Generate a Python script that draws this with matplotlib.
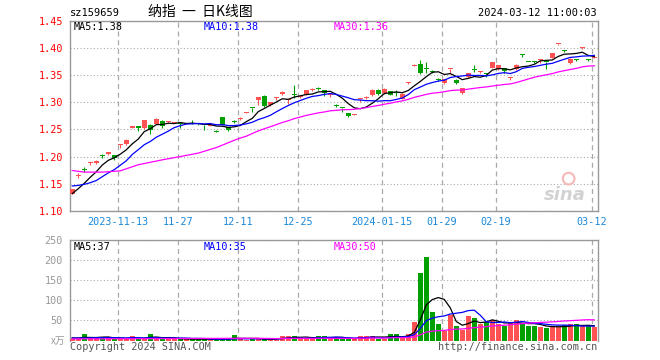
import matplotlib
matplotlib.use('Agg')
import matplotlib.pyplot as plt
import numpy as np
import pandas as pd

plt.rcParams['font.family'] = ['DejaVu Sans Mono', 'Noto Sans CJK SC']

# sz159659 daily k-line, 2023-11-01 .. 2024-03-12 (88 trading days)
open_ = [1.132, 1.1635, 1.176, 1.189, 1.188, 1.2025, 1.204, 1.202, 1.222, 1.2236,
         1.253, 1.2565, 1.252, 1.2587, 1.2605, 1.266, 1.2635, 1.262, 1.261, 1.260,
         1.2605, 1.260, 1.2585, 1.2565, 1.247, 1.2728, 1.2535, 1.264, 1.269, 1.280,
         1.2895, 1.3035, 1.312, 1.294, 1.308, 1.3145, 1.3035, 1.3145, 1.309, 1.314,
         1.3228, 1.3248, 1.322, 1.313, 1.2945, 1.289, 1.2795, 1.2765, 1.3055, 1.308,
         1.3125, 1.323, 1.316, 1.3205, 1.3175, 1.3066, 1.335, 1.3665, 1.3705, 1.362,
         1.3565, 1.342, 1.336, 1.361, 1.3415, 1.3175, 1.3465, 1.3595, 1.3545, 1.3525,
         1.3635, 1.3605, 1.363, 1.345, 1.3605, 1.3865, 1.374, 1.3738, 1.3772, 1.3737,
         1.382, 1.406, 1.394, 1.3725, 1.3785, 1.3995, 1.3785, 1.381]
high = [1.141, 1.169, 1.180, 1.190, 1.193, 1.205, 1.209, 1.203, 1.2236, 1.232,
        1.257, 1.257, 1.267, 1.259, 1.270, 1.2665, 1.266, 1.264, 1.261, 1.261,
        1.268, 1.2605, 1.2587, 1.258, 1.249, 1.273, 1.2535, 1.267, 1.2725, 1.2815,
        1.2895, 1.310, 1.3125, 1.300, 1.310, 1.3196, 1.305, 1.3306, 1.312, 1.322,
        1.3255, 1.328, 1.322, 1.316, 1.297, 1.289, 1.2795, 1.2785, 1.306, 1.311,
        1.3235, 1.3235, 1.3255, 1.321, 1.322, 1.316, 1.3375, 1.370, 1.377, 1.3736,
        1.3585, 1.3445, 1.343, 1.3614, 1.3417, 1.3265, 1.354, 1.3675, 1.357, 1.3525,
        1.3745, 1.368, 1.3635, 1.3455, 1.3695, 1.389, 1.3745, 1.376, 1.3778, 1.3737,
        1.3897, 1.407, 1.3965, 1.3815, 1.3785, 1.4015, 1.3785, 1.3845]
low = [1.131, 1.160, 1.171, 1.184, 1.187, 1.197, 1.203, 1.194, 1.215, 1.222,
       1.252, 1.2465, 1.251, 1.242, 1.260, 1.2525, 1.262, 1.261, 1.252, 1.2595,
       1.2595, 1.2585, 1.2494, 1.2555, 1.2445, 1.258, 1.2466, 1.261, 1.268, 1.2795,
       1.282, 1.2956, 1.2915, 1.293, 1.3035, 1.3135, 1.297, 1.308, 1.308, 1.3135,
       1.321, 1.322, 1.311, 1.310, 1.291, 1.2815, 1.2725, 1.2755, 1.300, 1.306,
       1.312, 1.3125, 1.3155, 1.3125, 1.311, 1.306, 1.334, 1.3655, 1.351, 1.354,
       1.353, 1.339, 1.3325, 1.354, 1.333, 1.315, 1.345, 1.3545, 1.353, 1.3455,
       1.363, 1.3595, 1.354, 1.3415, 1.3595, 1.383, 1.373, 1.371, 1.3725, 1.3615,
       1.3815, 1.4055, 1.3915, 1.3694, 1.375, 1.3985, 1.376, 1.3805]
close = [1.140, 1.1645, 1.175, 1.190, 1.191, 1.2015, 1.208, 1.198, 1.2236, 1.231,
         1.256, 1.2525, 1.2665, 1.2494, 1.269, 1.257, 1.2645, 1.263, 1.259, 1.2605,
         1.260, 1.2595, 1.2575, 1.2575, 1.246, 1.2585, 1.248, 1.2632, 1.270, 1.281,
         1.289, 1.3095, 1.2925, 1.300, 1.3098, 1.319, 1.3045, 1.3135, 1.3115, 1.3214,
         1.3235, 1.324, 1.316, 1.3145, 1.2935, 1.2885, 1.274, 1.2775, 1.306, 1.3095,
         1.323, 1.3155, 1.325, 1.3135, 1.317, 1.3155, 1.336, 1.368, 1.3535, 1.361,
         1.3555, 1.3412, 1.343, 1.3614, 1.3355, 1.3255, 1.3535, 1.359, 1.3555, 1.352,
         1.3742, 1.3675, 1.3575, 1.3455, 1.369, 1.386, 1.3735, 1.3733, 1.3778, 1.3732,
         1.3895, 1.4065, 1.3935, 1.380, 1.378, 1.4005, 1.3775, 1.3835]
# volume, 万
volume = [4, 3, 16, 5, 9, 9, 5, 4, 4, 4,
          12, 3, 6, 15, 7, 4, 3, 5, 3, 3,
          3, 3, 4, 3, 3, 4, 3, 14, 3, 2,
          4, 3, 4, 3, 2, 12, 10, 12, 4, 5,
          4, 12, 12, 4, 8, 4, 3, 4, 11, 12,
          12, 4, 4, 15, 17, 6, 15, 47, 168, 207,
          72, 40, 24, 63, 37, 26, 60, 57, 42, 46,
          52, 42, 36, 44, 50, 44, 36, 36, 34, 30,
          37, 34, 38, 40, 40, 35, 36, 33]

# averages before the window fills (data starts earlier)
ma5_head = [1.132, 1.141, 1.151, 1.162]
ma10_head = [1.146, 1.147, 1.149, 1.152, 1.156, 1.163, 1.170, 1.176, 1.184]
ma30_head_idx = [0, 2, 5, 8, 11, 15, 18, 21, 24, 27, 28]
ma30_head = [1.1744, 1.1715, 1.1714, 1.1738, 1.185, 1.194, 1.200, 1.2064, 1.2165, 1.230, 1.234]
vol_ma5_head = [6.5, 6, 8, 7.5]
vol_ma10_head = [6, 6, 6.5, 6.5, 7, 7, 7, 7, 6.5]
vol_ma30_head_idx = [0, 10, 20, 28]
vol_ma30_head = [4, 4.5, 5, 5.5]

tick_idx = [8, 18, 28, 38, 52, 62, 71, 87]
tick_lab = ['2023-11-13', '11-27', '12-11', '12-25', '2024-01-15', '01-29', '02-19', '03-12']

price_ticks = [1.10, 1.15, 1.20, 1.25, 1.30, 1.35, 1.40, 1.45]
vol_ticks = [50, 100, 150, 200, 250]

UP = '#ff5252'
DOWN = '#00a000'
GRID = '#aaaaaa'

n = len(close)
x = np.arange(n)
o = np.array(open_)
c = np.array(close)
up = c >= o
cols = np.where(up, UP, DOWN)


def moving(vals, win, head, head_idx=None):
    s = pd.Series(vals).rolling(win).mean().values
    if head_idx is None:
        head_idx = list(range(len(head)))
    xs = list(head_idx) + list(range(win - 1, len(vals)))
    ys = list(head) + list(s[win - 1:])
    return xs, ys


fig = plt.figure(figsize=(6.6, 3.6), dpi=100)
W, H = 660.0, 360.0
ax1 = fig.add_axes([70 / W, 1 - 211 / H, 527.7 / W, 190.5 / H])
ax2 = fig.add_axes([70 / W, 1 - 340.5 / H, 527.7 / W, 100.5 / H])

# ---- price panel
ax1.vlines(x, low, high, colors=cols, lw=0.8, zorder=3)
body = np.maximum(np.abs(c - o), 0.0019)
ax1.bar(x, body, bottom=np.minimum(o, c), width=0.85, color=cols, lw=0, zorder=3)

for win, head, hidx, col in [(5, ma5_head, None, 'black'),
                             (10, ma10_head, None, '#0000ff'),
                             (30, ma30_head, ma30_head_idx, '#ff00ff')]:
    xs, ys = moving(close, win, head, hidx)
    ax1.plot(xs, ys, color=col, lw=0.9, zorder=4)

ax1.set_xlim(-0.38, 87.57)
ax1.set_ylim(1.10, 1.45)
ax1.set_yticks(price_ticks)
ax1.set_yticklabels(['%.2f' % t for t in price_ticks])
ax1.tick_params(axis='y', length=0, pad=5, labelcolor='#ff0000', labelsize=7.3)
ax1.set_xticks([i - 0.35 for i in tick_idx])
ax1.set_xticklabels(tick_lab)
ax1.tick_params(axis='x', length=0, pad=4, labelcolor='#1a88d8', labelsize=7.3)
ax1.yaxis.grid(True, color=GRID, ls=(0, (1, 2)), lw=0.8)
ax1.xaxis.grid(True, color=GRID, ls=(0, (4, 3)), lw=0.9)
ax1.set_axisbelow(True)

# sina watermark
ax1.text(0.978, 0.085, 'sina', transform=ax1.transAxes, ha='right', va='center',
         fontsize=13, fontweight='bold', style='italic', color='#d2d2d2',
         family='DejaVu Sans', zorder=1)
ax1.scatter([0.945], [0.17], transform=ax1.transAxes, s=70, facecolor='none',
            edgecolor='#f6b8b8', lw=1.5, zorder=1)

# ---- volume panel
ax2.bar(x, volume, width=0.85, color=cols, lw=0, zorder=3)
for win, head, hidx, col in [(5, vol_ma5_head, None, 'black'),
                             (10, vol_ma10_head, None, '#0000ff'),
                             (30, vol_ma30_head, vol_ma30_head_idx, '#ff00ff')]:
    xs, ys = moving(volume, win, head, hidx)
    ax2.plot(xs, ys, color=col, lw=0.9, zorder=4)

ax2.set_xlim(-0.38, 87.57)
ax2.set_ylim(0, 250)
ax2.set_yticks(vol_ticks)
ax2.tick_params(axis='y', length=0, pad=5, labelcolor='#999999', labelsize=7.3)
ax2.set_xticks([i - 0.35 for i in tick_idx])
ax2.set_xticklabels([])
ax2.tick_params(axis='x', length=0)
ax2.yaxis.grid(True, color=GRID, ls=(0, (1, 2)), lw=0.8)
ax2.xaxis.grid(True, color=GRID, ls=(0, (4, 3)), lw=0.9)
ax2.set_axisbelow(True)
ax2.spines['bottom'].set_visible(False)

for ax in (ax1, ax2):
    for s in ['left', 'right', 'top', 'bottom']:
        ax.spines[s].set_color('#999999')
        ax.spines[s].set_linewidth(1)

# ---- texts


def ft(px, py, s, **kw):
    fig.text(px / W, 1 - py / H, s, **kw)


ft(70, 13, 'sz159659', fontsize=7.5, va='center', color='black')
ft(200, 12, '纳指  一  日K线图', fontsize=10, va='center', ha='center',
   family=['Noto Sans CJK SC', 'DejaVu Sans'], color='black')
ft(597, 13, '2024-03-12 11:00:03', fontsize=7.5, va='center', ha='right', color='black')

ft(74, 27, 'MA5:1.38', fontsize=7.3, va='center', color='black')
ft(204, 27, 'MA10:1.38', fontsize=7.3, va='center', color='#0000ff')
ft(334, 27, 'MA30:1.36', fontsize=7.3, va='center', color='#ff00ff')

ft(74, 247, 'MA5:37', fontsize=7.3, va='center', color='black')
ft(204, 247, 'MA10:35', fontsize=7.3, va='center', color='#0000ff')
ft(334, 247, 'MA30:50', fontsize=7.3, va='center', color='#ff00ff')

ft(65, 341, 'x万', fontsize=7, va='center', ha='right', color='#999999',
   family=['Noto Sans CJK SC', 'DejaVu Sans'])
ft(70, 347, 'Copyright 2024 SINA.COM', fontsize=7.3, va='center', color='#555555')
ft(597, 347, 'http://finance.sina.com.cn', fontsize=7.3, va='center', ha='right', color='#555555')

fig.savefig('out.png', dpi=100, facecolor='white')
